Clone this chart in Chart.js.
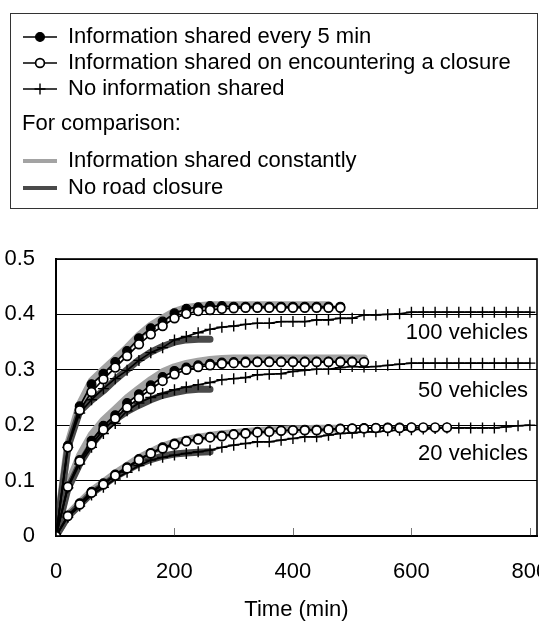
<!DOCTYPE html>
<html>
<head>
<meta charset="utf-8">
<script src="https://cdn.jsdelivr.net/npm/chart.js@4/dist/chart.umd.min.js"></script>
<style>
  html, body { margin: 0; padding: 0; background: #ffffff; overflow: hidden; }
  #wrap { width: 560px; height: 623px; position: relative; }
  canvas { display: block; width: 560px; height: 623px; }
</style>
</head>
<body>
<div id="wrap"><canvas id="c" width="560" height="623" style="width:560px;height:623px"></canvas></div>
<script>
// ---------------- DATA ----------------
const times = [0,20,40,60,80,100,120,140,160,180,200,220,240,260,280,300,320,340,360,380,400,
               420,440,460,480,500,520,540,560,580,600,620,640,660,680,700,720,740,760,780,800];

const xTickLabels = ['0','200','400','600','800'];
const xTickValues = [0,200,400,600,800];
const yTickLabels = ['0','0.1','0.2','0.3','0.4','0.5'];

const legendLabels = [
  'Information shared every 5 min',
  'Information shared on encountering a closure',
  'No information shared',
  'Information shared constantly',
  'No road closure'
];
const legendHeading = 'For comparison:';

const groupLabels = ['100 vehicles','50 vehicles','20 vehicles'];
const groupLabelValues = [0.366, 0.261, 0.149];
const groupLabelTime = 797;

// 100 vehicles
const every5_100 = [0,0.163,0.234,0.274,0.293,0.314,0.334,0.357,0.375,0.387,0.402,0.410,0.413,0.415,0.415,0.414,0.414,0.414,0.414,0.414,0.414,0.414,0.414,0.414,0.414];
const closure_100 = [0,0.160,0.227,0.260,0.283,0.304,0.325,0.346,0.364,0.379,0.393,0.401,0.406,0.408,0.410,0.411,0.412,0.412,0.412,0.412,0.412,0.412,0.412,0.412,0.412];
const noInfo_100 = [0,0.160,0.222,0.246,0.266,0.284,0.299,0.317,0.331,0.340,0.354,0.360,0.367,0.373,0.377,0.379,0.382,0.384,0.384,0.387,0.387,0.387,0.390,0.390,0.393,0.393,0.399,0.399,0.400,0.401,0.404,0.404,0.404,0.404,0.404,0.404,0.404,0.404,0.404,0.404,0.404];
const constant_100 = [0,0.165,0.238,0.280,0.300,0.320,0.340,0.362,0.380,0.393,0.405,0.412,0.415,0.417,0.417,0.417,0.417,0.417,0.417,0.417,0.417,0.417,0.417,0.417];
const noClosure_100 = [0,0.160,0.225,0.245,0.262,0.282,0.300,0.318,0.332,0.342,0.350,0.354,0.355,0.355];

// 50 vehicles
const every5_50 = [0,0.089,0.137,0.172,0.199,0.218,0.240,0.256,0.272,0.287,0.298,0.304,0.308,0.311,0.313,0.314,0.315,0.315,0.315,0.315,0.315,0.315,0.315,0.315,0.315,0.315];
const closure_50 = [0,0.089,0.135,0.165,0.192,0.212,0.232,0.249,0.265,0.280,0.292,0.300,0.305,0.308,0.311,0.312,0.313,0.314,0.314,0.314,0.314,0.314,0.314,0.314,0.314,0.314,0.314];
const noInfo_50 = [0,0.087,0.130,0.160,0.185,0.203,0.226,0.240,0.250,0.257,0.264,0.269,0.273,0.277,0.282,0.284,0.286,0.291,0.292,0.293,0.297,0.299,0.301,0.301,0.304,0.306,0.305,0.306,0.308,0.310,0.312,0.312,0.312,0.312,0.312,0.312,0.312,0.312,0.312,0.312,0.312];
const constant_50 = [0,0.093,0.145,0.183,0.209,0.229,0.249,0.266,0.282,0.296,0.305,0.311,0.315,0.318,0.320,0.321,0.321,0.321,0.321,0.321,0.321,0.321,0.321,0.321,0.321,0.321,0.321];
const noClosure_50 = [0,0.085,0.130,0.165,0.190,0.210,0.225,0.236,0.246,0.254,0.259,0.263,0.265,0.265];

// 20 vehicles
const every5_20 = [0,0.037,0.059,0.080,0.095,0.111,0.124,0.139,0.150,0.160,0.167,0.172,0.176,0.179,0.181,0.184,0.186,0.188,0.189,0.190,0.191,0.192,0.192,0.193,0.194,0.194,0.195,0.195,0.196,0.196,0.196];
const closure_20 = [0,0.036,0.057,0.078,0.093,0.109,0.122,0.137,0.149,0.158,0.165,0.171,0.174,0.178,0.180,0.183,0.185,0.187,0.188,0.190,0.191,0.191,0.191,0.192,0.193,0.194,0.194,0.195,0.195,0.195,0.196,0.196,0.196,0.196];
const noInfo_20 = [0,0.034,0.054,0.074,0.088,0.103,0.115,0.127,0.137,0.142,0.146,0.149,0.152,0.155,0.160,0.164,0.167,0.170,0.170,0.173,0.176,0.179,0.179,0.182,0.185,0.186,0.188,0.188,0.190,0.191,0.192,0.193,0.194,0.195,0.195,0.195,0.195,0.195,0.197,0.199,0.200];
const constant_20 = [0,0.038,0.060,0.081,0.097,0.113,0.127,0.141,0.152,0.162,0.169,0.174,0.178,0.181,0.184,0.186,0.188,0.190,0.191,0.192,0.193,0.193,0.194,0.194,0.194];
const noClosure_20 = [0,0.035,0.056,0.077,0.092,0.107,0.119,0.130,0.138,0.144,0.148,0.150,0.151,0.152];

// ---------------- STYLES ----------------
const FONT = '"Liberation Sans", Arial, Helvetica, sans-serif';
const LIGHT = '#a3a3a3';
const DARK = '#4a4a4a';

const styles = {
  every5:   { color: '#000', width: 1.7, pointStyle: 'circle', radius: 4.4, fill: '#000', pbw: 1.2, order: 2 },
  closure:  { color: '#000', width: 1.7, pointStyle: 'circle', radius: 4.4, fill: '#fff', pbw: 1.7, order: 1 },
  noInfo:   { color: '#000', width: 1.7, pointStyle: 'cross',  radius: 5.5, fill: '#000', pbw: 1.4, order: 3 },
  constant: { color: LIGHT, width: 7.5, pointStyle: false, radius: 0, order: 20 },
  noClosure:{ color: DARK,  width: 7, pointStyle: false, radius: 0, order: 19 }
};

const seriesList = [
  ['constant', constant_100], ['constant', constant_50], ['constant', constant_20],
  ['noClosure', noClosure_100], ['noClosure', noClosure_50], ['noClosure', noClosure_20],
  ['noInfo', noInfo_100], ['noInfo', noInfo_50], ['noInfo', noInfo_20],
  ['every5', every5_100], ['every5', every5_50], ['every5', every5_20],
  ['closure', closure_100], ['closure', closure_50], ['closure', closure_20]
];

function toPoints(vals) { return vals.map((v, i) => ({ x: times[i], y: v })); }

const datasets = seriesList.map(([kind, vals]) => {
  const s = styles[kind];
  return {
    label: kind,
    data: toPoints(vals),
    borderColor: s.color,
    borderWidth: s.width,
    backgroundColor: s.fill || s.color,
    pointStyle: s.pointStyle,
    pointRadius: s.radius,
    pointBackgroundColor: s.fill || s.color,
    pointBorderColor: s.color,
    pointBorderWidth: s.pbw || 0,
    borderCapStyle: 'round',
    borderJoinStyle: 'round',
    tension: 0,
    fill: false,
    order: s.order
  };
});

// ---------------- PLUGINS ----------------
const framePlugin = {
  id: 'frame',
  afterDatasetsDraw(chart) {
    const { ctx, chartArea: a, scales } = chart;
    ctx.save();
    ctx.strokeStyle = '#777';
    ctx.lineWidth = 1;
    xTickValues.forEach(v => {
      if (v === 0) return;
      const px = Math.round(scales.x.getPixelForValue(v)) + 0.5;
      ctx.beginPath();
      ctx.moveTo(px, a.bottom);
      ctx.lineTo(px, a.bottom - 8);
      ctx.stroke();
    });
    ctx.strokeStyle = '#000';
    ctx.lineWidth = 1.6;
    ctx.strokeRect(a.left, a.top, a.right - a.left, a.bottom - a.top);
    ctx.fillStyle = '#000';
    ctx.font = '22px ' + FONT;
    ctx.textAlign = 'right';
    ctx.textBaseline = 'middle';
    groupLabels.forEach((t, i) => {
      ctx.fillText(t, scales.x.getPixelForValue(groupLabelTime), scales.y.getPixelForValue(groupLabelValues[i]));
    });
    ctx.restore();
  },
  afterDraw(chart) {
    const { ctx } = chart;
    ctx.save();
    ctx.strokeStyle = '#333';
    ctx.lineWidth = 1;
    ctx.strokeRect(10.5, 13.5, 527, 195);
    ctx.font = '22px ' + FONT;
    ctx.textBaseline = 'middle';
    ctx.textAlign = 'left';
    ctx.fillStyle = '#000';
    const rows = [37, 63, 89, 161, 188];
    const kinds = ['every5', 'closure', 'noInfo', 'constant', 'noClosure'];
    kinds.forEach((k, i) => {
      const s = styles[k];
      const y = rows[i];
      ctx.beginPath();
      ctx.strokeStyle = s.color;
      ctx.lineWidth = (k === 'constant' || k === 'noClosure') ? 4 : 1.6;
      ctx.moveTo(23, y);
      ctx.lineTo(57, y);
      ctx.stroke();
      if (s.pointStyle) {
        ctx.fillStyle = s.fill;
        ctx.strokeStyle = s.color;
        ctx.lineWidth = s.pbw;
        ctx.beginPath();
        if (s.pointStyle === 'circle') {
          ctx.arc(40, y, s.radius, 0, Math.PI * 2);
          ctx.fill();
          ctx.stroke();
        } else {
          ctx.moveTo(40 - s.radius, y); ctx.lineTo(40 + s.radius, y);
          ctx.moveTo(40, y - s.radius); ctx.lineTo(40, y + s.radius);
          ctx.stroke();
        }
      }
      ctx.fillStyle = '#000';
      ctx.fillText(legendLabels[i], 68, y);
    });
    ctx.fillText(legendHeading, 22, 124);
    ctx.restore();
  }
};

// ---------------- CHART ----------------
new Chart(document.getElementById('c'), {
  type: 'line',
  data: { datasets },
  options: {
    responsive: false,
    animation: false,
    devicePixelRatio: 1,
    layout: { padding: { top: 259, right: 23, left: 0, bottom: 0 } },
    plugins: { legend: { display: false }, tooltip: { enabled: false } },
    scales: {
      x: {
        type: 'linear',
        min: 0, max: 812,
        afterFit(s) { s.height = 87; s.paddingLeft = 0; s.paddingRight = 0; },
        afterBuildTicks(s) { s.ticks = xTickValues.map(v => ({ value: v })); },
        ticks: {
          callback: (v) => xTickLabels[xTickValues.indexOf(v)] ?? '',
          font: { size: 22, family: FONT }, color: '#000',
          padding: 23, maxRotation: 0, autoSkip: false
        },
        grid: { display: true, drawOnChartArea: false, drawTicks: false },
        border: { display: true, color: '#000', width: 2 },
        title: {
          display: true, text: 'Time (min)',
          font: { size: 22, family: FONT }, color: '#000',
          padding: { top: 0, bottom: 0 }
        }
      },
      y: {
        min: 0, max: 0.5,
        afterFit(s) { s.width = 56; s.paddingTop = 0; s.paddingBottom = 0; },
        afterBuildTicks(s) { s.ticks = yTickLabels.map((t, i) => ({ value: i / 10 })); },
        ticks: {
          callback: (v, i) => yTickLabels[i],
          font: { size: 22, family: FONT }, color: '#000',
          padding: 21
        },
        grid: { color: '#000', lineWidth: 1, drawTicks: false },
        border: { display: true, color: '#000', width: 2 }
      }
    }
  },
  plugins: [framePlugin]
});
</script>
</body>
</html>
